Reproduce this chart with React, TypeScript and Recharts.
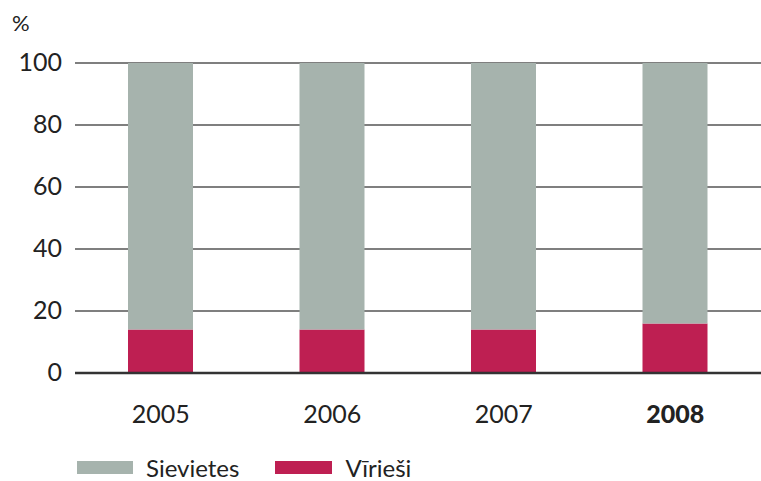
import React from "react";
import { BarChart, Bar, XAxis, YAxis, CartesianGrid } from "recharts";

const years = ["2005", "2006", "2007", "2008"];
const virieši = [14, 14, 14, 16];
const sievietes = [86, 86, 86, 84];
const yTicks = [0, 20, 40, 60, 80, 100];

const data = years.map((y, i) => ({ year: y, Vīrieši: virieši[i], Sievietes: sievietes[i] }));

const FONT = "Lato, 'Open Sans', sans-serif";
const GRAY = "#a6b3ad";
const RED = "#be1f52";

const YTick = (props: any) => {
  const { y, payload } = props;
  return (
    <text x={62} y={y} dy={8} textAnchor="end" fontFamily={FONT} fontSize={25} fill="#222">
      {payload.value}
    </text>
  );
};

const XTick = (props: any) => {
  const { x, y, payload } = props;
  const bold = payload.value === "2008";
  return (
    <text x={x} y={y} dy={42} textAnchor="middle" fontFamily={FONT} fontSize={25} fontWeight={bold ? 900 : 400} fill="#222">
      {payload.value}
    </text>
  );
};

export default function App() {
  return (
    <div style={{ position: "absolute", left: 0, top: 0, width: 761, height: 481, background: "#fff" }}>
      <div style={{ position: "absolute", left: 12, top: 12, fontFamily: FONT, fontSize: 22, lineHeight: "22px", color: "#222" }}>%</div>
      <BarChart width={761} height={481} data={data} margin={{ top: 63, right: 0, bottom: 78, left: -2 }} barSize={65}>
        <CartesianGrid vertical={false} stroke="#555" strokeWidth={1.3} />
        <YAxis
          width={77}
          domain={[0, 100]}
          ticks={yTicks}
          axisLine={false}
          tickLine={false}
          tick={<YTick />}
          interval={0}
        />
        <XAxis dataKey="year" height={30} axisLine={{ stroke: "#333", strokeWidth: 2.5 }} tickLine={false} tick={<XTick />} interval={0} />
        <Bar dataKey="Vīrieši" stackId="a" fill={RED} isAnimationActive={false} />
        <Bar dataKey="Sievietes" stackId="a" fill={GRAY} isAnimationActive={false} />
      </BarChart>
      <div style={{ position: "absolute", left: 77, top: 453, display: "flex", alignItems: "center", fontFamily: FONT, fontSize: 24, color: "#222" }}>
        <span style={{ display: "inline-block", width: 56, height: 13, background: GRAY, marginRight: 13 }} />
        <span style={{ marginRight: 36 }}>Sievietes</span>
        <span style={{ display: "inline-block", width: 57, height: 13, background: RED, marginRight: 13 }} />
        <span>Vīrieši</span>
      </div>
    </div>
  );
}
